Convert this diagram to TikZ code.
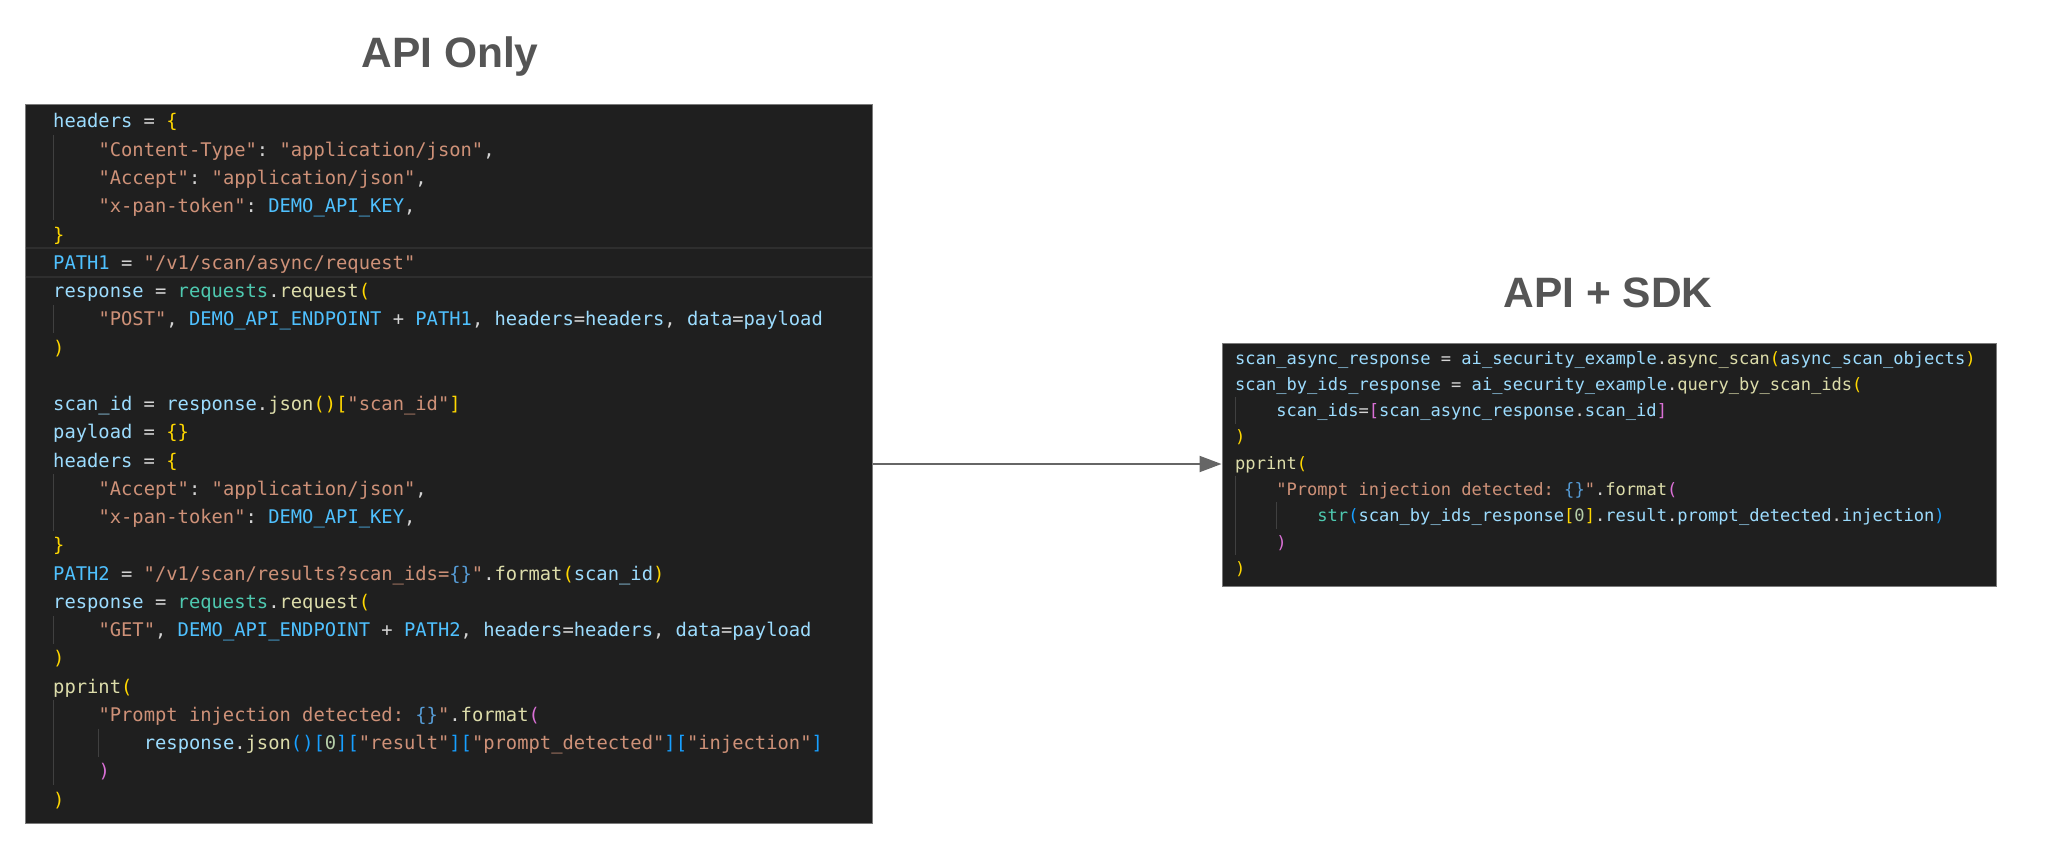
\documentclass[tikz,border=0pt]{standalone}
\usepackage{fontspec}
\usetikzlibrary{arrows.meta}
\newfontfamily\codefont[WordSpace={1,0,0},PunctuationSpace=0]{DejaVu Sans Mono}
\newfontfamily\titlefont{Liberation Sans}
\definecolor{cbg}{HTML}{1F1F1F}
\definecolor{cfg}{HTML}{D4D4D4}
\definecolor{cvar}{HTML}{9CDCFE}
\definecolor{cconst}{HTML}{4FC1FF}
\definecolor{cstr}{HTML}{CE9178}
\definecolor{cfun}{HTML}{DCDCAA}
\definecolor{cmod}{HTML}{4EC9B0}
\definecolor{cnum}{HTML}{B5CEA8}
\definecolor{bgold}{HTML}{FFD700}
\definecolor{borch}{HTML}{DA70D6}
\definecolor{bblue}{HTML}{179FFF}
\definecolor{cph}{HTML}{569CD6}
\definecolor{cguide}{HTML}{404040}
\definecolor{chl}{HTML}{2E2E2E}
\definecolor{ctitle}{HTML}{555555}
\definecolor{carrow}{HTML}{666666}
\definecolor{cborder}{HTML}{7A7A7A}
\newcommand\zVa[1]{\textcolor{cvar}{#1}}
\newcommand\zCt[1]{\textcolor{cconst}{#1}}
\newcommand\zSt[1]{\textcolor{cstr}{#1}}
\newcommand\zFn[1]{\textcolor{cfun}{#1}}
\newcommand\zMd[1]{\textcolor{cmod}{#1}}
\newcommand\zNm[1]{\textcolor{cnum}{#1}}
\newcommand\zBa[1]{\textcolor{bgold}{#1}}
\newcommand\zBb[1]{\textcolor{borch}{#1}}
\newcommand\zBc[1]{\textcolor{bblue}{#1}}
\newcommand\zPh[1]{\textcolor{cph}{#1}}
\tikzset{
  codebox/.style={draw=cborder, line width=1pt, fill=cbg, inner sep=0pt},
  codeL/.style={anchor=base west, inner sep=0pt, text=cfg, font=\codefont\fontsize{18.8}{22}\selectfont\frenchspacing},
  codeR/.style={anchor=base west, inner sep=0pt, text=cfg, font=\codefont\fontsize{17.08}{20}\selectfont\frenchspacing},
  titlest/.style={anchor=base, inner sep=0pt, text=ctitle, font=\titlefont\bfseries\fontsize{42.5}{50}\selectfont},
  guide/.style={draw=cguide, line width=1pt},
  hlline/.style={draw=chl, line width=1.2pt},
  arrowst/.style={draw=carrow, line width=2pt, -{Triangle[length=22pt,width=16pt]}}
}
\begin{document}
\begin{tikzpicture}[x=1pt,y=-1pt]
\useasboundingbox[fill=white] (0,0) rectangle (2048,856);
% titles
\node[titlest] (tA) at (450,68) {API Only};
\node[titlest] (tB) at (1608,307) {API + SDK};
% boxes
\node[codebox, minimum width=847pt, minimum height=718pt] (left) at (448.5,464) {};
\node[codebox, minimum width=774pt, minimum height=243pt] (right) at (1609,464.5) {};
% current-line highlight
\draw[hlline] (25.5,248) -- (871.5,248);
\draw[hlline] (25.5,277) -- (871.5,277);
% indent guides (left)
\draw[guide] (53.5,135) -- (53.5,220);
\draw[guide] (53.5,305) -- (53.5,333);
\draw[guide] (53.5,474) -- (53.5,531);
\draw[guide] (53.5,616) -- (53.5,644);
\draw[guide] (53.5,700) -- (53.5,785);
\draw[guide] (98.5,728.5) -- (98.5,756.5);
% indent guides (right)
\draw[guide] (1235.5,397) -- (1235.5,424);
\draw[guide] (1235.5,475.5) -- (1235.5,555);
\draw[guide] (1276.5,502) -- (1276.5,529);
% left code
\node[codeL] (l1) at (53,128) {\zVa{headers} = \zBa{\{}};
\node[codeL] (l2) at (98.3,156.25) {\zSt{"Content-Type"}: \zSt{"application/json"},};
\node[codeL] (l3) at (98.3,184.5) {\zSt{"Accept"}: \zSt{"application/json"},};
\node[codeL] (l4) at (98.3,212.75) {\zSt{"x-pan-token"}: \zCt{DEMO\_API\_KEY},};
\node[codeL] (l5) at (53,241) {\zBa{\}}};
\node[codeL] (l6) at (53,269.25) {\zCt{PATH1} = \zSt{"/v1/scan/async/request"}};
\node[codeL] (l7) at (53,297.5) {\zVa{response} = \zMd{requests}.\zFn{request}\zBa{(}};
\node[codeL] (l8) at (98.3,325.75) {\zSt{"POST"}, \zCt{DEMO\_API\_ENDPOINT} + \zCt{PATH1}, \zVa{headers}=\zVa{headers}, \zVa{data}=\zVa{payload}};
\node[codeL] (l9) at (53,354) {\zBa{)}};
\node[codeL] (l11) at (53,410.5) {\zVa{scan\_id} = \zVa{response}.\zFn{json}\zBa{()}\zBa{[}\zSt{"scan\_id"}\zBa{]}};
\node[codeL] (l12) at (53,438.75) {\zVa{payload} = \zBa{\{\}}};
\node[codeL] (l13) at (53,467) {\zVa{headers} = \zBa{\{}};
\node[codeL] (l14) at (98.3,495.25) {\zSt{"Accept"}: \zSt{"application/json"},};
\node[codeL] (l15) at (98.3,523.5) {\zSt{"x-pan-token"}: \zCt{DEMO\_API\_KEY},};
\node[codeL] (l16) at (53,551.75) {\zBa{\}}};
\node[codeL] (l17) at (53,580) {\zCt{PATH2} = \zSt{"/v1/scan/results?scan\_ids=}\zPh{\{\}}\zSt{"}.\zFn{format}\zBa{(}\zVa{scan\_id}\zBa{)}};
\node[codeL] (l18) at (53,608.25) {\zVa{response} = \zMd{requests}.\zFn{request}\zBa{(}};
\node[codeL] (l19) at (98.3,636.5) {\zSt{"GET"}, \zCt{DEMO\_API\_ENDPOINT} + \zCt{PATH2}, \zVa{headers}=\zVa{headers}, \zVa{data}=\zVa{payload}};
\node[codeL] (l20) at (53,664.75) {\zBa{)}};
\node[codeL] (l21) at (53,693) {\zFn{pprint}\zBa{(}};
\node[codeL] (l22) at (98.3,721.25) {\zSt{"Prompt injection detected: }\zPh{\{\}}\zSt{"}.\zFn{format}\zBb{(}};
\node[codeL] (l23) at (143.6,749.5) {\zVa{response}.\zFn{json}\zBc{()}\zBc{[}\zNm{0}\zBc{]}\zBc{[}\zSt{"result"}\zBc{]}\zBc{[}\zSt{"prompt\_detected"}\zBc{]}\zBc{[}\zSt{"injection"}\zBc{]}};
\node[codeL] (l24) at (98.3,777.75) {\zBb{)}};
\node[codeL] (l25) at (53,806) {\zBa{)}};
% right code
\node[codeR] (r1) at (1235,364) {\zVa{scan\_async\_response} = \zVa{ai\_security\_example}.\zFn{async\_scan}\zBa{(}\zVa{async\_scan\_objects}\zBa{)}};
\node[codeR] (r2) at (1235,390.3) {\zVa{scan\_by\_ids\_response} = \zVa{ai\_security\_example}.\zFn{query\_by\_scan\_ids}\zBa{(}};
\node[codeR] (r3) at (1276.1,416.6) {\zVa{scan\_ids}=\zBb{[}\zVa{scan\_async\_response}.\zVa{scan\_id}\zBb{]}};
\node[codeR] (r4) at (1235,442.9) {\zBa{)}};
\node[codeR] (r5) at (1235,469.2) {\zFn{pprint}\zBa{(}};
\node[codeR] (r6) at (1276.1,495.5) {\zSt{"Prompt injection detected: }\zPh{\{\}}\zSt{"}.\zFn{format}\zBb{(}};
\node[codeR] (r7) at (1317.2,521.8) {\zMd{str}\zBc{(}\zVa{scan\_by\_ids\_response}\zBa{[}\zNm{0}\zBa{]}.\zVa{result}.\zVa{prompt\_detected}.\zVa{injection}\zBc{)}};
\node[codeR] (r8) at (1276.1,548.1) {\zBb{)}};
\node[codeR] (r9) at (1235,574.4) {\zBa{)}};
% arrow
\draw[arrowst] (left.east) -- (left.east -| right.west);
\end{tikzpicture}
\end{document}
